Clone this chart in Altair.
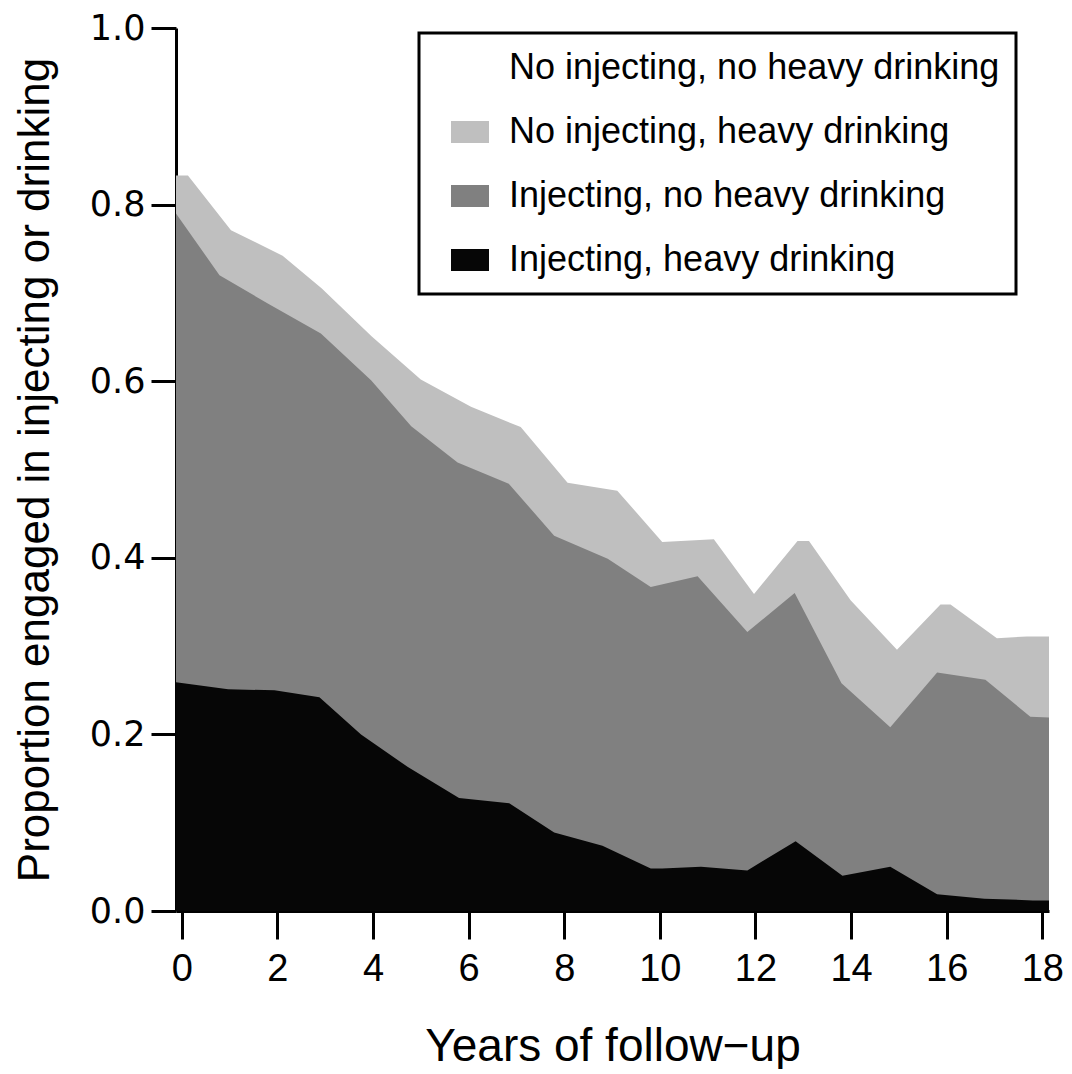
import altair as alt
import pandas as pd

series = [
    "No injecting, no heavy drinking",
    "No injecting, heavy drinking",
    "Injecting, no heavy drinking",
    "Injecting, heavy drinking",
]
colors = ["#ffffff", "#bfbfbf", "#808080", "#060606"]

# upper boundary of "No injecting, heavy drinking" (cumulative)
light_x = [-0.12, 0.13, 1.03, 2.11, 2.93, 3.97, 5.00, 6.05, 7.09, 8.07, 9.11, 10.05,
           11.13, 11.97, 12.88, 13.12, 13.99, 14.96, 15.87, 16.08, 17.05, 17.68, 18.14]
light_y = [0.833, 0.833, 0.771, 0.742, 0.705, 0.651, 0.602, 0.571, 0.548, 0.485, 0.476, 0.418,
           0.421, 0.359, 0.419, 0.419, 0.352, 0.296, 0.347, 0.347, 0.309, 0.311, 0.311]

# upper boundary of "Injecting, no heavy drinking" (cumulative)
dark_x = [-0.12, 0.79, 1.80, 2.91, 3.96, 4.80, 5.77, 6.84, 7.79, 8.91, 9.81, 10.79,
          11.83, 12.82, 13.80, 14.82, 15.80, 16.81, 17.75, 18.14]
dark_y = [0.790, 0.720, 0.688, 0.654, 0.601, 0.549, 0.508, 0.484, 0.425, 0.399, 0.367, 0.379,
          0.316, 0.360, 0.258, 0.208, 0.270, 0.262, 0.220, 0.219]

# upper boundary of "Injecting, heavy drinking"
black_x = [-0.12, 0.97, 1.94, 2.88, 3.75, 4.73, 5.80, 6.85, 7.79, 8.80, 9.81, 10.05,
           10.86, 11.83, 12.84, 13.82, 14.82, 15.80, 16.79, 17.80, 18.14]
black_y = [0.259, 0.251, 0.250, 0.242, 0.200, 0.163, 0.128, 0.122, 0.089, 0.074, 0.048, 0.048,
           0.050, 0.046, 0.079, 0.040, 0.050, 0.019, 0.014, 0.012, 0.012]

x_ticks = list(range(0, 19, 2))
y_ticks = [0.0, 0.2, 0.4, 0.6, 0.8, 1.0]

frames = []
for name, xs, ys in [(series[1], light_x, light_y),
                     (series[2], dark_x, dark_y),
                     (series[3], black_x, black_y)]:
    frames.append(pd.DataFrame({"year": xs, "value": ys, "series": name}))
df = pd.concat(frames, ignore_index=True)

x_enc = alt.X(
    "year:Q",
    scale=alt.Scale(domain=[-0.12, 18.14], nice=False, zero=False),
    axis=alt.Axis(
        values=x_ticks, format="d", grid=False,
        domainColor="black", domainWidth=3,
        tickColor="black", tickWidth=3, tickSize=28,
        labelFont="Liberation Sans", labelFontSize=38, labelColor="black",
        labelPadding=11,
        title="Years of follow\u2212up", titleFont="Liberation Sans",
        titleFontSize=46, titleFontWeight="normal", titleColor="black",
        titlePadding=36,
    ),
)
y_enc = alt.Y(
    "value:Q",
    stack=None,
    scale=alt.Scale(domain=[0, 1], nice=False),
    axis=alt.Axis(
        values=y_ticks, format=".1f", grid=False,
        domainColor="black", domainWidth=3,
        tickColor="black", tickWidth=3, tickSize=25,
        labelFont="DejaVu Sans", labelFontSize=35, labelColor="black",
        labelPadding=6,
        title="Proportion engaged in injecting or drinking",
        titleFont="Liberation Sans", titleFontSize=44,
        titleFontWeight="normal", titleColor="black", titlePadding=32,
    ),
)
color_enc = alt.Color(
    "series:N",
    scale=alt.Scale(domain=series, range=colors),
    title=None,
    legend=alt.Legend(
        orient="none", legendX=243, legendY=5,
        strokeColor="black", padding=16, rowPadding=27,
        symbolType="M -1 -0.58 H 1 V 0.58 H -1 Z", symbolSize=1444,
        symbolStrokeWidth=0, symbolOpacity=1, symbolOffset=16,
        labelFont="Liberation Sans", labelFontSize=36, labelColor="black",
        labelOffset=20, labelLimit=800,
    ),
)

layers = []
for name in series[1:]:
    layers.append(
        alt.Chart(df)
        .transform_filter(alt.datum.series == name)
        .mark_area(interpolate="linear", opacity=1)
        .encode(x=x_enc, y=y_enc, color=color_enc)
    )

chart = (
    alt.layer(*layers)
    .properties(width=873, height=883, padding={"left": 5, "top": 3, "right": 0, "bottom": 0})
    .configure_view(stroke=None)
    .configure_legend(strokeWidth=3)
)

chart.save("out.html", embed_options={"renderer": "svg", "actions": False})
